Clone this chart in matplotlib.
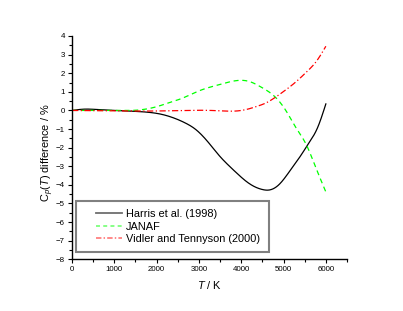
import matplotlib
matplotlib.use("Agg")
import matplotlib.pyplot as plt
import numpy as np
from matplotlib.ticker import MultipleLocator
from matplotlib.lines import Line2D
from matplotlib.patches import Rectangle

plt.rcParams['font.family'] = ['Liberation Sans', 'DejaVu Sans']
plt.rcParams['mathtext.fontset'] = 'custom'
plt.rcParams['mathtext.rm'] = 'Liberation Sans'
plt.rcParams['mathtext.it'] = 'Liberation Sans:italic'

# Harris et al. (1998)
harris_T = [0, 300, 700, 1000, 1500, 1850, 2100, 2400, 2700, 2900, 3100, 3300, 3500, 3700, 3900, 4100, 4300, 4500, 4650, 4900, 5150, 5400, 5600, 5800, 6000]
harris_v = [0, 0.07, 0.03, 0.0, -0.05, -0.11, -0.2, -0.4, -0.7, -0.98, -1.4, -1.93, -2.48, -2.95, -3.38, -3.78, -4.08, -4.25, -4.28, -3.97, -3.25, -2.45, -1.75, -0.95, 0.35]

# JANAF
janaf_T = [0, 500, 1000, 1500, 2000, 2300, 2600, 3000, 3500, 3920, 4200, 4450, 4830, 5070, 5300, 5540, 5750, 6000]
janaf_v = [0, 0.0, 0.0, 0.01, 0.2, 0.42, 0.65, 1.05, 1.4, 1.61, 1.55, 1.28, 0.66, -0.06, -0.95, -1.85, -3.0, -4.38]

# Vidler and Tennyson (2000)
vidler_T = [0, 1000, 2000, 3000, 3500, 3800, 4100, 4360, 4600, 4835, 5050, 5300, 5550, 5780, 6000]
vidler_v = [0, -0.02, -0.03, 0.01, -0.02, -0.04, 0.04, 0.21, 0.42, 0.75, 1.1, 1.55, 2.08, 2.65, 3.45]

labels = ['Harris et al. (1998)', 'JANAF', 'Vidler and Tennyson (2000)']


def natural_spline(T, v, num=600):
    T = np.asarray(T, float)
    v = np.asarray(v, float)
    n = len(T)
    h = np.diff(T)
    A = np.zeros((n, n))
    b = np.zeros(n)
    A[0, 0] = 1
    A[-1, -1] = 1
    for i in range(1, n - 1):
        A[i, i - 1] = h[i - 1]
        A[i, i] = 2 * (h[i - 1] + h[i])
        A[i, i + 1] = h[i]
        b[i] = 6 * ((v[i + 1] - v[i]) / h[i] - (v[i] - v[i - 1]) / h[i - 1])
    M = np.linalg.solve(A, b)
    x = np.linspace(T[0], T[-1], num)
    idx = np.clip(np.searchsorted(T, x) - 1, 0, n - 2)
    hi = h[idx]
    a = T[idx + 1] - x
    c = x - T[idx]
    y = (M[idx] * a ** 3 + M[idx + 1] * c ** 3) / (6 * hi) \
        + (v[idx] / hi - M[idx] * hi / 6) * a + (v[idx + 1] / hi - M[idx + 1] * hi / 6) * c
    return x, y


fig = plt.figure(figsize=(4.03, 3.11), dpi=100)
ax = fig.add_axes([72 / 403, 1 - 259.3 / 311, (347 - 72) / 403, (259.3 - 36) / 311])

x, y = natural_spline(harris_T, harris_v)
ax.plot(x, y, color='black', lw=0.9)
x, y = natural_spline(janaf_T, janaf_v)
ax.plot(x, y, color='#00ff00', lw=0.9, ls=(0, (4, 3)))
x, y = natural_spline(vidler_T, vidler_v)
ax.plot(x, y, color='#ff0000', lw=0.9, ls=(0, (5, 2, 1, 2)))

ax.set_xlim(0, 6500)
ax.set_ylim(-8, 4)
ax.set_xticks([0, 1000, 2000, 3000, 4000, 5000, 6000])
ax.xaxis.set_minor_locator(MultipleLocator(500))
ax.yaxis.set_major_locator(MultipleLocator(1))
ax.yaxis.set_minor_locator(MultipleLocator(0.5))
ax.spines['top'].set_visible(False)
ax.spines['right'].set_visible(False)
for s in ['left', 'bottom']:
    ax.spines[s].set_linewidth(1.0)
ax.tick_params(which='major', direction='out', length=3, width=0.8, labelsize=5.7, pad=2)
ax.tick_params(which='minor', direction='out', length=2, width=0.8)

ax.set_xlabel(r'$\it{T}$ / K', fontsize=7.9, labelpad=4)
ax.set_ylabel(r'C$_p$($\it{T}$) difference / %', fontsize=7.9)
ax.yaxis.set_label_coords((56 - 72) / 275, (259.3 - 153) / 223.3)

# legend frame
ax.add_patch(Rectangle((4 / 275, (259.3 - 252) / 223.3), 193 / 275, 50.7 / 223.3,
                       transform=ax.transAxes, fill=True, facecolor='white',
                       edgecolor='#808080', lw=1.5, zorder=4, clip_on=False))
handles = [Line2D([], [], color='#6e6e6e', lw=1.3),
           Line2D([], [], color='#7dff7d', lw=1.3, ls=(0, (2.2, 1.8))),
           Line2D([], [], color='#ff8080', lw=1.3, ls=(0, (3, 1.2, 0.8, 1.2)))]
leg = ax.legend(handles, labels, loc='center left',
                bbox_to_anchor=((95.5 - 72) / 275, (259.3 - 226.5) / 223.3),
                fontsize=7.9, frameon=False, handlelength=2.45, handletextpad=0.3,
                labelspacing=0.22, borderpad=0, borderaxespad=0)
leg.set_zorder(5)

fig.savefig('out.png', dpi=100)
